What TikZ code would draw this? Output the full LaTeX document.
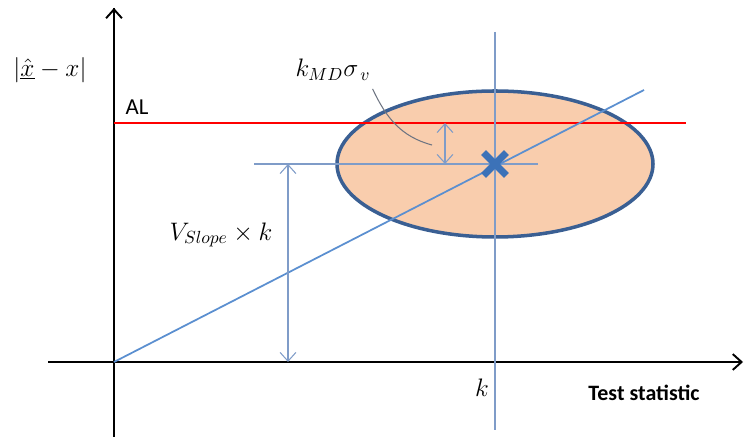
\documentclass[tikz,border=0pt]{standalone}
\usepackage{fontspec}
\setsansfont{Carlito}
\usetikzlibrary{arrows.meta,shapes.misc}

\definecolor{alred}{HTML}{FF0000}
\definecolor{slopeblue}{HTML}{5B8FD0}
\definecolor{guideblue}{HTML}{7F9CC8}
\definecolor{ellfill}{HTML}{F9CDAD}
\definecolor{ellborder}{HTML}{3A5F93}
\definecolor{markblue}{HTML}{3C72B8}
\definecolor{leadgray}{HTML}{6E7582}

\tikzset{
  axis/.style={line width=1.1pt, black},
  guide/.style={line width=0.6pt, guideblue},
  dimarrow/.style={guide, <->},
  mathlabel/.style={font=\Large},
  textlabel/.style={font=\sffamily\fontsize{13}{15}\selectfont},
}

\begin{document}
\begin{tikzpicture}[x=0.02cm, y=0.02cm, >={Straight Barb[length=5pt,width=9pt]}]
  \useasboundingbox (0,0) rectangle (744,439);

  % axes
  \coordinate (O) at (114,77);
  \coordinate (ybot) at (114,2);
  \coordinate (ytop) at (114,431);
  \coordinate (xleft) at (48,77);
  \coordinate (xright) at (743,77);
  \draw[axis] (ybot) -- (ytop);
  \draw[axis, ->] (O) -- (ytop);
  \draw[axis, ->] (xleft) -- (xright);

  % alert limit
  \coordinate (ALstart) at (114,316);
  \coordinate (ALend) at (686,316);

  % ellipse of the fault
  \coordinate (C) at (495,275);
  \draw[ellborder, line width=2pt, fill=ellfill] (C) ellipse [x radius=158, y radius=73];

  \draw[alred, line width=1.1pt] (ALstart) -- (ALend);

  % guide lines through the centre
  \coordinate (ktop) at (495,407);
  \coordinate (kbot) at (495,9);
  \coordinate (hleft) at (254,275);
  \coordinate (hright) at (538,275);
  \draw[guide] (ktop) -- (kbot);
  \draw[guide] (hleft) -- (hright);

  % slope line
  \coordinate (S) at (644,349);
  \draw[slopeblue, line width=1pt] (O) -- (S);

  % dimension arrows
  \coordinate (Vtop) at (288,275);
  \coordinate (Vbot) at (288,77);
  \draw[dimarrow] (Vtop) -- (Vbot);
  \coordinate (mdtop) at (445,316);
  \coordinate (mdbot) at (445,275);
  \draw[dimarrow] (mdtop) -- (mdbot);

  % fault point
  \node[cross out, draw=markblue, line width=4pt, minimum size=9pt, inner sep=0pt] (F) at (C) {};

  % labels
  \node[mathlabel] (err) at (50,369) {$|\underline{\hat{x}}-x|$};
  \node[textlabel] (AL) at (137,332) {AL};
  \node[mathlabel] (kmd) at (333,369) {$k_{MD}\sigma_{\,v}$};
  \node[mathlabel] (vs) at (221,204) {$V_{Slope}\times k$};
  \node[mathlabel] (k) at (482,51) {$k$};
  \node[font=\sffamily\bfseries\fontsize{12.5}{14}\selectfont] (ts) at (644,46) {Test statistic};

  % leader to the small arrow
  \coordinate (lead) at (432,294);
  \draw[leadgray, line width=0.6pt] (kmd.south east) ++(-4,-2) to[out=-65, in=165] (lead);
\end{tikzpicture}
\end{document}
